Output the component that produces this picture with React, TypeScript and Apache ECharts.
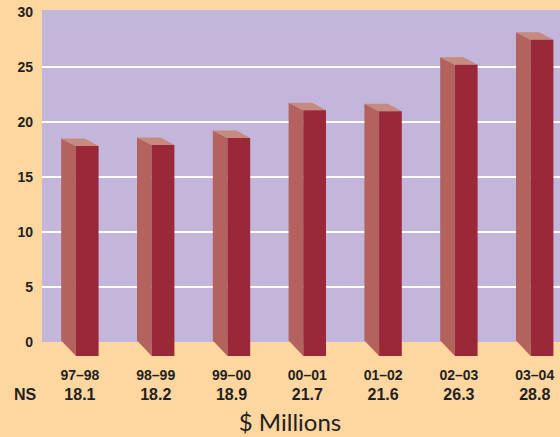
import React, { useEffect, useRef } from "react";
import * as echarts from "echarts";

const categories = ["97–98", "98–99", "99–00", "00–01", "01–02", "02–03", "03–04"];
const values = [18.1, 18.2, 18.9, 21.7, 21.6, 26.3, 28.8];
const valueLabels = ["18.1", "18.2", "18.9", "21.7", "21.6", "26.3", "28.8"];
const yTicks = [0, 5, 10, 15, 20, 25, 30];
const rowLabel = "NS";
const unitTitle = "$ Millions";

const PEACH = "#FED6A0";
const LAVENDER = "#C4B6DB";
const FRONT = "#9A2838";
const SIDE = "#B4625D";
const TOP = "#C68A7F";
const INK = "#231F20";

export default function App() {
  const ref = useRef<HTMLDivElement>(null);
  useEffect(() => {
    if (!ref.current) return;
    const chart = echarts.init(ref.current, null, { renderer: "svg" });
    const option: any = {
      animation: false,
      backgroundColor: PEACH,
      textStyle: { fontFamily: "Liberation Sans, Arial, sans-serif" },
      grid: {
        left: 42,
        top: 12,
        width: 530.6,
        height: 330,
        outerBoundsMode: "none",
        containLabel: false,
        show: true,
        backgroundColor: LAVENDER,
        borderWidth: 0,
      },
      graphic: [
        {
          type: "rect",
          shape: { x: 42, y: 10, width: 520, height: 3 },
          style: { fill: LAVENDER },
          silent: true,
        },
        {
          type: "text",
          x: 25,
          y: 394,
          style: {
            text: rowLabel,
            fill: INK,
            font: "bold 16px 'Liberation Sans', Arial, sans-serif",
            align: "center",
            verticalAlign: "middle",
          },
        },
        {
          type: "text",
          x: 290,
          y: 421,
          style: {
            text: unitTitle,
            fill: INK,
            font: "24px Lato, sans-serif",
            align: "center",
            verticalAlign: "middle",
          },
        },
      ],
      xAxis: {
        type: "category",
        data: categories,
        axisLine: { show: false },
        axisTick: { show: false },
        splitLine: { show: false },
        axisLabel: {
          margin: 24,
          interval: 0,
          hideOverlap: false,
          formatter: (v: string, i: number) => `{c|${v}}\n{v|${valueLabels[i]}}`,
          rich: {
            c: {
              fontSize: 14,
              fontWeight: "bold",
              lineHeight: 18,
              color: INK,
              fontFamily: "Liberation Sans, Arial, sans-serif",
            },
            v: {
              fontSize: 16,
              fontWeight: "bold",
              lineHeight: 20,
              color: INK,
              fontFamily: "Liberation Sans, Arial, sans-serif",
            },
          },
        },
      },
      yAxis: [
        {
          type: "value",
          min: yTicks[0],
          max: yTicks[yTicks.length - 1],
          interval: 5,
          axisLine: { show: false },
          axisTick: { show: false },
          axisLabel: {
            margin: 9,
            fontSize: 14,
            fontWeight: "bold",
            color: INK,
            verticalAlign: "middle",
          },
          splitLine: {
            show: true,
            lineStyle: {
              width: 2,
              color: ["rgba(0,0,0,0)", "#ffffff", "#ffffff", "#ffffff", "#ffffff", "#ffffff", "rgba(0,0,0,0)"],
            },
          },
        },
        {
          type: "value",
          show: false,
          min: -1.63,
          max: 31.6,
          splitLine: { show: false },
        },
      ],
      series: [
        {
          type: "custom",
          yAxisIndex: 1,
          data: values.map((v, i) => [i, v]),
          renderItem: (params: any, api: any) => {
            const pt = api.coord([api.value(0), api.value(1)]);
            const cs = params.coordSys;
            const gridBottom = cs.y + cs.height;
            const cx = pt[0];
            const frontTop = pt[1];
            const backTop = frontTop - 7.5;
            const sideLeft = cx - 18.7;
            const frontLeft = cx - 4;
            const frontRight = cx + 18.7;
            const frontBottom = gridBottom + 14;
            const sideBottom = gridBottom - 1.5;
            return {
              type: "group",
              children: [
                {
                  type: "polygon",
                  shape: {
                    points: [
                      [sideLeft, backTop],
                      [frontLeft, frontTop],
                      [frontLeft, frontBottom],
                      [sideLeft, sideBottom],
                    ],
                  },
                  style: { fill: SIDE },
                },
                {
                  type: "polygon",
                  shape: {
                    points: [
                      [sideLeft, backTop],
                      [sideLeft + 23.5, backTop],
                      [frontRight, frontTop],
                      [frontLeft, frontTop],
                    ],
                  },
                  style: { fill: TOP },
                },
                {
                  type: "rect",
                  shape: {
                    x: frontLeft,
                    y: frontTop,
                    width: frontRight - frontLeft,
                    height: frontBottom - frontTop,
                  },
                  style: { fill: FRONT },
                },
              ],
            };
          },
        },
      ],
    };
    chart.setOption(option);
    return () => chart.dispose();
  }, []);
  return (
    <div
      ref={ref}
      style={{ position: "absolute", left: 0, top: 0, width: 560, height: 437 }}
    />
  );
}
